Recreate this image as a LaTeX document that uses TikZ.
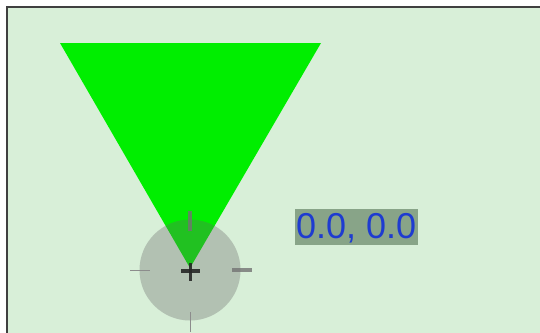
\documentclass[tikz,border=0pt]{standalone}
\usepackage{fontspec}
\setmainfont{Liberation Sans}
\definecolor{bgfill}{HTML}{D8EFD8}
\definecolor{frameline}{HTML}{404040}
\definecolor{trigreen}{HTML}{00EE00}
\definecolor{labelfill}{HTML}{88A488}
\definecolor{labeltext}{HTML}{1E3CD0}
\begin{document}
\begin{tikzpicture}[x=1pt,y=-1pt,
  thicktick/.style={draw=black!55,line width=4pt,opacity=0.8},
  thintick/.style={draw=black!45,line width=1pt},
  crossline/.style={draw=black!85,line width=3.5pt,opacity=0.9}]
\useasboundingbox (0,0) rectangle (540,332);
\fill[white] (0,0) rectangle (540,332);
\fill[bgfill] (7,7) rectangle (541,333);
\draw[frameline,line width=1.5pt] (7,333) -- (7,7) -- (541,7);
\fill[trigreen] (60,43) -- (321,43) -- (190,268) -- cycle;
\coordinate (c) at (190,270);
\fill[black!60,opacity=0.33] (c) circle (50.5);
\draw[thicktick] (190,211) -- (190,231);
\draw[thicktick] (232,270) -- (252,270);
\draw[thintick] (130,270) -- (150,270);
\draw[thintick] (190,312) -- (190,332);
\draw[crossline] (181,271) -- (199.5,271);
\draw[crossline] (190.5,263) -- (190.5,281);
\node[fill=labelfill,inner sep=0pt,minimum width=123,minimum height=36] (box) at (356.5,227) {};
\node[anchor=base west,inner sep=0pt,text=labeltext,font=\fontsize{36}{36}\selectfont] (lbl) at (296,238.5) {0.0, 0.0};
\end{tikzpicture}
\end{document}
